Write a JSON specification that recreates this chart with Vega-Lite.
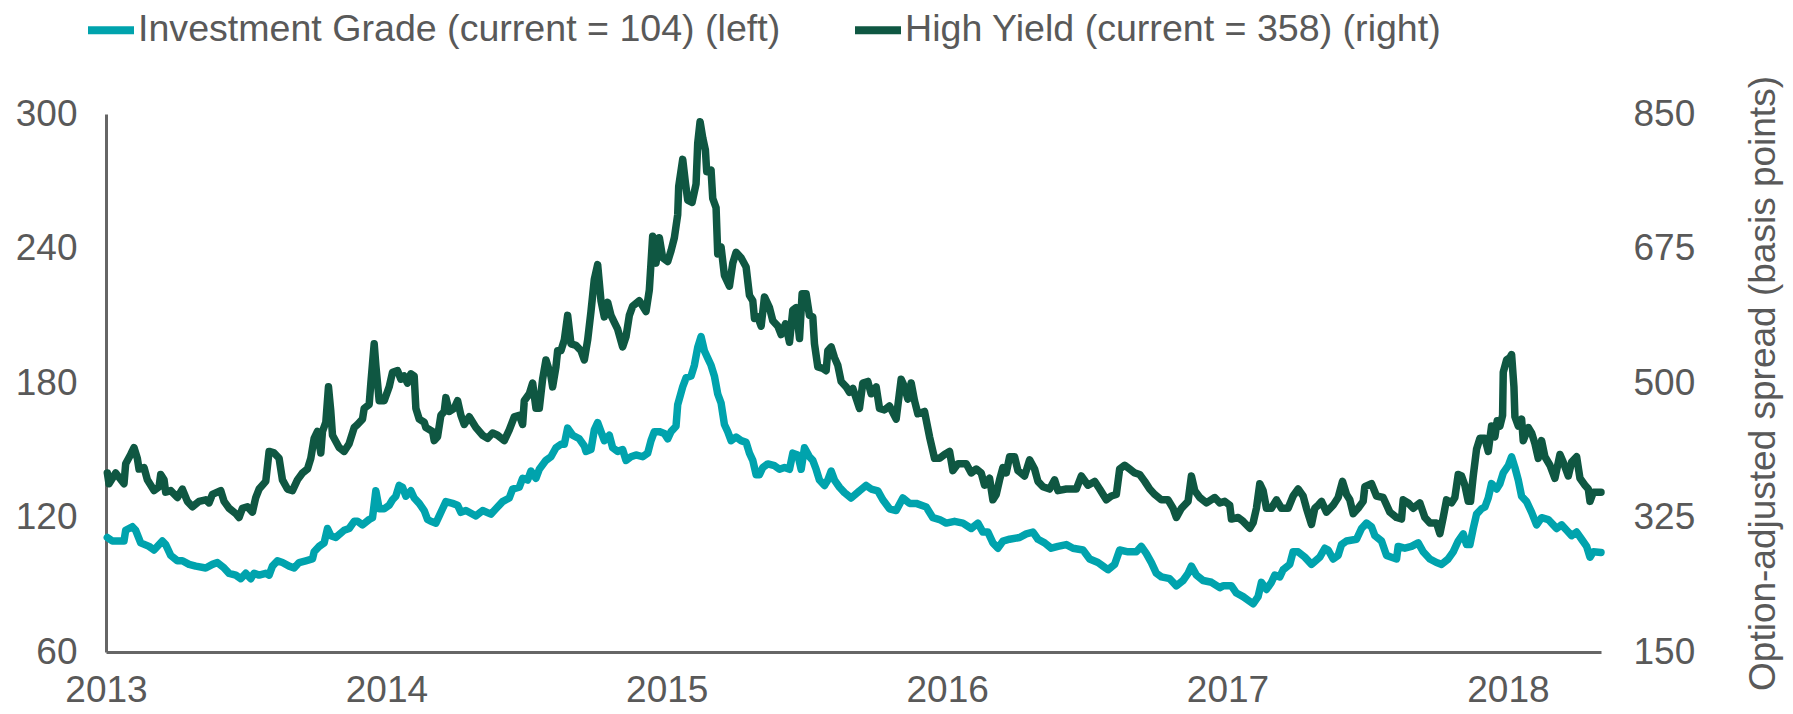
{
 "$schema": "https://vega.github.io/schema/vega-lite/v6.json",
 "width": 1495,
 "height": 538,
 "autosize": {"type": "none"},
 "padding": {"left": 106, "top": 114, "right": 192, "bottom": 62},
 "config": {
  "font": "Liberation Sans",
  "view": {"stroke": null},
  "axis": {"labelColor": "#595959", "labelFontSize": 37, "titleColor": "#595959", "titleFontSize": 37, "titleFontWeight": "normal", "domainColor": "#666666", "domainWidth": 3, "ticks": false, "tickSize": 0, "grid": false}
 },
 "datasets": {
  "ig": [
{"x":2013.0048,"v":111.1},{"x":2013.0226,"v":109.5},{"x":2013.0642,"v":109.5},{"x":2013.0702,"v":114.3},{"x":2013.0940,"v":115.9},{"x":2013.1059,"v":114.3},{"x":2013.1237,"v":108.7},{"x":2013.1535,"v":107.1},{"x":2013.1713,"v":105.5},{"x":2013.2010,"v":109.5},{"x":2013.2129,"v":107.9},{"x":2013.2308,"v":103.1},{"x":2013.2546,"v":100.7},{"x":2013.2724,"v":100.7},{"x":2013.2962,"v":99.1},{"x":2013.3200,"v":98.3},{"x":2013.3557,"v":97.5},{"x":2013.3795,"v":99.1},{"x":2013.3973,"v":99.9},{"x":2013.4211,"v":97.5},{"x":2013.4390,"v":95.1},{"x":2013.4628,"v":94.3},{"x":2013.4806,"v":92.7},{"x":2013.4985,"v":95.1},{"x":2013.5163,"v":92.7},{"x":2013.5282,"v":95.1},{"x":2013.5460,"v":94.3},{"x":2013.5698,"v":95.1},{"x":2013.5817,"v":94.3},{"x":2013.5936,"v":98.3},{"x":2013.6115,"v":100.7},{"x":2013.6293,"v":99.9},{"x":2013.6531,"v":98.3},{"x":2013.6710,"v":97.5},{"x":2013.6888,"v":99.9},{"x":2013.7126,"v":100.7},{"x":2013.7364,"v":101.5},{"x":2013.7423,"v":104.7},{"x":2013.7602,"v":107.1},{"x":2013.7780,"v":108.7},{"x":2013.7899,"v":115.1},{"x":2013.8018,"v":111.9},{"x":2013.8197,"v":111.1},{"x":2013.8494,"v":114.3},{"x":2013.8672,"v":115.1},{"x":2013.8851,"v":118.3},{"x":2013.8970,"v":118.3},{"x":2013.9148,"v":116.7},{"x":2013.9386,"v":119.1},{"x":2013.9505,"v":119.9},{"x":2013.9624,"v":131.9},{"x":2013.9743,"v":123.9},{"x":2013.9922,"v":123.9},{"x":2014.0100,"v":125.5},{"x":2014.0219,"v":127.9},{"x":2014.0338,"v":129.5},{"x":2014.0457,"v":134.3},{"x":2014.0576,"v":133.5},{"x":2014.0695,"v":129.5},{"x":2014.0873,"v":131.9},{"x":2014.0992,"v":128.7},{"x":2014.1171,"v":126.3},{"x":2014.1349,"v":123.1},{"x":2014.1468,"v":119.1},{"x":2014.1587,"v":118.3},{"x":2014.1765,"v":117.5},{"x":2014.1885,"v":120.7},{"x":2014.2003,"v":123.9},{"x":2014.2122,"v":127.1},{"x":2014.2360,"v":126.3},{"x":2014.2539,"v":125.5},{"x":2014.2658,"v":122.3},{"x":2014.2836,"v":123.1},
{"x":2014.3193,"v":120.7},{"x":2014.3431,"v":123.1},{"x":2014.3728,"v":121.5},{"x":2014.3906,"v":123.9},{"x":2014.4144,"v":127.1},{"x":2014.4383,"v":128.7},{"x":2014.4502,"v":132.7},{"x":2014.4740,"v":133.5},{"x":2014.4859,"v":137.5},{"x":2014.5037,"v":136.7},{"x":2014.5156,"v":140.7},{"x":2014.5335,"v":137.5},{"x":2014.5454,"v":141.5},{"x":2014.5691,"v":145.5},{"x":2014.5870,"v":147.1},{"x":2014.6048,"v":151.1},{"x":2014.6227,"v":152.7},{"x":2014.6346,"v":152.7},{"x":2014.6465,"v":159.9},{"x":2014.6643,"v":156.7},{"x":2014.6881,"v":155.1},{"x":2014.7060,"v":151.9},{"x":2014.7119,"v":149.5},{"x":2014.7297,"v":150.3},{"x":2014.7416,"v":159.1},{"x":2014.7535,"v":162.3},{"x":2014.7654,"v":158.3},{"x":2014.7773,"v":154.3},{"x":2014.7951,"v":156.7},{"x":2014.8070,"v":151.1},{"x":2014.8249,"v":149.5},{"x":2014.8427,"v":150.3},{"x":2014.8546,"v":145.5},{"x":2014.8724,"v":147.1},{"x":2014.8903,"v":147.9},{"x":2014.9141,"v":147.1},{"x":2014.9319,"v":148.7},{"x":2014.9438,"v":154.3},{"x":2014.9557,"v":158.3},{"x":2014.9735,"v":158.3},{"x":2014.9914,"v":157.5},{"x":2015.0033,"v":155.1},{"x":2015.0152,"v":158.3},{"x":2015.0330,"v":160.7},{"x":2015.0390,"v":170.3},{"x":2015.0569,"v":178.3},{"x":2015.0688,"v":182.3},{"x":2015.0866,"v":183.1},{"x":2015.0985,"v":187.9},{"x":2015.1104,"v":195.9},{"x":2015.1223,"v":200.7},{"x":2015.1342,"v":194.3},{"x":2015.1461,"v":191.1},{"x":2015.1580,"v":187.9},{"x":2015.1699,"v":183.1},{"x":2015.1818,"v":175.1},{"x":2015.1937,"v":171.1},{"x":2015.2056,"v":161.5},{"x":2015.2175,"v":158.3},{"x":2015.2294,"v":154.3},{"x":2015.2473,"v":155.9},{"x":2015.2651,"v":154.3},{"x":2015.2830,"v":153.5},{"x":2015.2949,"v":148.7},{"x":2015.3068,"v":145.5},{"x":2015.3187,"v":139.1},{"x":2015.3306,"v":139.1},{"x":2015.3425,"v":142.3},{"x":2015.3604,"v":143.9},{"x":2015.3842,"v":143.1},{"x":2015.4020,"v":141.5},{"x":2015.4199,"v":142.3},{"x":2015.4377,"v":141.5},{"x":2015.4496,"v":148.7},{"x":2015.4674,"v":147.9},{"x":2015.4793,"v":141.5},{"x":2015.4912,"v":151.1},{"x":2015.5089,"v":147.1},{"x":2015.5208,"v":145.5},{"x":2015.5327,"v":141.5},{"x":2015.5446,"v":136.7},{"x":2015.5625,"v":134.3},{"x":2015.5744,"v":136.7},{"x":2015.5863,"v":140.7},{"x":2015.5982,"v":136.7},{"x":2015.6160,"v":133.5},{"x":2015.6338,"v":131.1},{"x":2015.6576,"v":128.7},
{"x":2015.6873,"v":131.9},{"x":2015.7111,"v":134.3},{"x":2015.7290,"v":132.7},{"x":2015.7528,"v":131.9},{"x":2015.7706,"v":127.9},{"x":2015.7944,"v":123.9},{"x":2015.8182,"v":123.1},{"x":2015.8420,"v":128.7},{"x":2015.8658,"v":126.3},{"x":2015.8896,"v":126.3},{"x":2015.9253,"v":124.7},{"x":2015.9491,"v":119.9},{"x":2015.9729,"v":119.1},{"x":2015.9967,"v":117.5},{"x":2016.0264,"v":118.3},{"x":2016.0562,"v":117.5},{"x":2016.0859,"v":115.1},{"x":2016.1097,"v":117.5},{"x":2016.1275,"v":113.5},{"x":2016.1454,"v":113.5},{"x":2016.1632,"v":108.7},{"x":2016.1811,"v":106.3},{"x":2016.1989,"v":109.5},{"x":2016.2227,"v":110.3},{"x":2016.2584,"v":111.1},{"x":2016.2822,"v":112.7},{"x":2016.3060,"v":113.5},{"x":2016.3238,"v":110.3},{"x":2016.3476,"v":108.7},{"x":2016.3714,"v":106.3},{"x":2016.3952,"v":107.1},{"x":2016.4250,"v":107.9},{"x":2016.4488,"v":106.3},{"x":2016.4845,"v":105.5},{"x":2016.5083,"v":101.5},{"x":2016.5380,"v":99.9},{"x":2016.5558,"v":98.3},{"x":2016.5737,"v":96.7},{"x":2016.5975,"v":99.1},{"x":2016.6153,"v":105.5},{"x":2016.6451,"v":104.7},{"x":2016.6748,"v":104.7},{"x":2016.6926,"v":107.1},{"x":2016.7105,"v":103.9},{"x":2016.7284,"v":99.9},{"x":2016.7462,"v":95.1},{"x":2016.7641,"v":93.5},{"x":2016.7938,"v":92.7},{"x":2016.8176,"v":89.5},{"x":2016.8414,"v":91.9},{"x":2016.8593,"v":95.1},{"x":2016.8712,"v":98.3},{"x":2016.8890,"v":94.3},{"x":2016.9129,"v":91.9},{"x":2016.9426,"v":91.1},{"x":2016.9724,"v":88.7},
{"x":2016.9841,"v":89.5},{"x":2017.0139,"v":89.5},{"x":2017.0317,"v":86.3},{"x":2017.0555,"v":84.7},{"x":2017.0734,"v":83.1},{"x":2017.0912,"v":81.5},{"x":2017.1090,"v":84.7},{"x":2017.1209,"v":91.1},{"x":2017.1388,"v":87.9},{"x":2017.1566,"v":91.1},{"x":2017.1685,"v":94.3},{"x":2017.1864,"v":93.5},{"x":2017.1983,"v":96.7},{"x":2017.2220,"v":99.1},{"x":2017.2339,"v":104.7},{"x":2017.2518,"v":104.7},{"x":2017.2756,"v":102.3},{"x":2017.2994,"v":99.1},{"x":2017.3291,"v":102.3},{"x":2017.3470,"v":106.3},{"x":2017.3589,"v":105.5},{"x":2017.3767,"v":101.5},{"x":2017.3945,"v":103.1},{"x":2017.4064,"v":107.9},{"x":2017.4243,"v":109.5},{"x":2017.4600,"v":110.3},{"x":2017.4778,"v":115.1},{"x":2017.4957,"v":117.5},{"x":2017.5135,"v":115.9},{"x":2017.5254,"v":111.9},{"x":2017.5492,"v":109.5},{"x":2017.5670,"v":103.1},{"x":2017.5849,"v":102.3},{"x":2017.6027,"v":101.5},{"x":2017.6086,"v":107.1},{"x":2017.6324,"v":106.3},{"x":2017.6562,"v":107.1},{"x":2017.6800,"v":108.7},{"x":2017.6978,"v":104.7},{"x":2017.7216,"v":101.5},{"x":2017.7454,"v":99.9},{"x":2017.7633,"v":99.1},{"x":2017.7871,"v":101.5},{"x":2017.8049,"v":104.7},{"x":2017.8227,"v":109.5},{"x":2017.8406,"v":112.7},{"x":2017.8525,"v":107.9},{"x":2017.8644,"v":107.9},{"x":2017.8763,"v":115.1},{"x":2017.8882,"v":121.5},{"x":2017.9060,"v":123.9},{"x":2017.9180,"v":124.7},{"x":2017.9298,"v":128.7},{"x":2017.9417,"v":135.1},{"x":2017.9596,"v":132.7},{"x":2017.9715,"v":135.1},{"x":2017.9834,"v":139.9},{"x":2018.0012,"v":143.1},{"x":2018.0131,"v":147.1},{"x":2018.0250,"v":142.3},{"x":2018.0369,"v":136.7},{"x":2018.0488,"v":129.5},{"x":2018.0666,"v":127.1},{"x":2018.0845,"v":122.3},{"x":2018.1023,"v":116.7},{"x":2018.1202,"v":119.9},{"x":2018.1440,"v":119.1},{"x":2018.1618,"v":116.7},{"x":2018.1737,"v":115.1},{"x":2018.1915,"v":116.7},{"x":2018.2094,"v":114.3},{"x":2018.2272,"v":111.9},{"x":2018.2451,"v":113.5},{"x":2018.2629,"v":110.3},{"x":2018.2808,"v":107.1},{"x":2018.2927,"v":102.3},{"x":2018.3046,"v":104.7},{"x":2018.3320,"v":104.4}
  ],
  "hy": [
{"x":2013.0048,"v":383},{"x":2013.0107,"v":369},{"x":2013.0345,"v":383},{"x":2013.0642,"v":369},{"x":2013.0702,"v":395},{"x":2013.0880,"v":407},{"x":2013.0999,"v":416},{"x":2013.1118,"v":402},{"x":2013.1178,"v":388},{"x":2013.1356,"v":390},{"x":2013.1475,"v":374},{"x":2013.1713,"v":360},{"x":2013.1892,"v":365},{"x":2013.1951,"v":381},{"x":2013.2070,"v":374},{"x":2013.2129,"v":358},{"x":2013.2308,"v":360},{"x":2013.2546,"v":351},{"x":2013.2724,"v":362},{"x":2013.2903,"v":346},{"x":2013.3081,"v":339},{"x":2013.3319,"v":346},{"x":2013.3557,"v":348},{"x":2013.3676,"v":344},{"x":2013.3795,"v":355},{"x":2013.4092,"v":360},{"x":2013.4211,"v":346},{"x":2013.4390,"v":337},{"x":2013.4628,"v":330},{"x":2013.4747,"v":325},{"x":2013.4866,"v":337},{"x":2013.5044,"v":339},{"x":2013.5222,"v":332},{"x":2013.5341,"v":351},{"x":2013.5460,"v":362},{"x":2013.5698,"v":372},{"x":2013.5817,"v":411},{"x":2013.5996,"v":409},{"x":2013.6174,"v":402},{"x":2013.6293,"v":374},{"x":2013.6472,"v":362},{"x":2013.6650,"v":360},{"x":2013.6828,"v":374},{"x":2013.7007,"v":383},{"x":2013.7185,"v":388},{"x":2013.7304,"v":402},{"x":2013.7423,"v":428},{"x":2013.7542,"v":437},{"x":2013.7661,"v":409},{"x":2013.7721,"v":437},{"x":2013.7840,"v":449},{"x":2013.7935,"v":495},{"x":2013.8018,"v":463},{"x":2013.8078,"v":432},{"x":2013.8315,"v":416},{"x":2013.8494,"v":411},{"x":2013.8672,"v":421},{"x":2013.8851,"v":442},{"x":2013.8970,"v":446},{"x":2013.9148,"v":453},{"x":2013.9208,"v":467},{"x":2013.9386,"v":472},{"x":2013.9446,"v":500},{"x":2013.9565,"v":551},{"x":2013.9624,"v":523},{"x":2013.9743,"v":477},{"x":2013.9922,"v":477},{"x":2014.0100,"v":495},{"x":2014.0219,"v":514},{"x":2014.0397,"v":516},{"x":2014.0516,"v":505},{"x":2014.0635,"v":509},{"x":2014.0754,"v":500},{"x":2014.0873,"v":512},{"x":2014.0992,"v":509},{"x":2014.1052,"v":467},{"x":2014.1171,"v":453},{"x":2014.1349,"v":449},{"x":2014.1409,"v":442},{"x":2014.1646,"v":437},{"x":2014.1706,"v":425},{"x":2014.1825,"v":430},{"x":2014.1944,"v":458},{"x":2014.2063,"v":463},{"x":2014.2122,"v":481},{"x":2014.2241,"v":463},{"x":2014.2420,"v":467},{"x":2014.2539,"v":477},{"x":2014.2658,"v":458},{"x":2014.2777,"v":446},
{"x":2014.2955,"v":456},{"x":2014.3193,"v":442},{"x":2014.3431,"v":432},{"x":2014.3609,"v":428},{"x":2014.3788,"v":435},{"x":2014.3966,"v":432},{"x":2014.4204,"v":425},{"x":2014.4383,"v":439},{"x":2014.4561,"v":456},{"x":2014.4740,"v":458},{"x":2014.4859,"v":446},{"x":2014.4918,"v":477},{"x":2014.5097,"v":486},{"x":2014.5216,"v":500},{"x":2014.5335,"v":467},{"x":2014.5454,"v":467},{"x":2014.5572,"v":505},{"x":2014.5691,"v":530},{"x":2014.5870,"v":509},{"x":2014.5929,"v":495},{"x":2014.6048,"v":521},{"x":2014.6108,"v":542},{"x":2014.6227,"v":542},{"x":2014.6346,"v":556},{"x":2014.6465,"v":588},{"x":2014.6584,"v":551},{"x":2014.6762,"v":549},{"x":2014.6941,"v":542},{"x":2014.7060,"v":530},{"x":2014.7179,"v":556},{"x":2014.7297,"v":593},{"x":2014.7416,"v":635},{"x":2014.7535,"v":654},{"x":2014.7654,"v":607},{"x":2014.7773,"v":586},{"x":2014.7892,"v":605},{"x":2014.8011,"v":588},{"x":2014.8130,"v":579},{"x":2014.8249,"v":570},{"x":2014.8427,"v":547},{"x":2014.8546,"v":560},{"x":2014.8665,"v":588},{"x":2014.8784,"v":600},{"x":2014.9022,"v":607},{"x":2014.9260,"v":593},{"x":2014.9378,"v":621},{"x":2014.9497,"v":691},{"x":2014.9616,"v":656},{"x":2014.9735,"v":689},{"x":2014.9854,"v":663},{"x":2015.0033,"v":658},{"x":2015.0152,"v":672},{"x":2015.0271,"v":689},{"x":2015.0390,"v":719},{"x":2015.0426,"v":756},{"x":2015.0569,"v":791},{"x":2015.0664,"v":761},{"x":2015.0747,"v":738},{"x":2015.0902,"v":735},{"x":2015.1045,"v":759},{"x":2015.1104,"v":812},{"x":2015.1188,"v":840},{"x":2015.1283,"v":819},{"x":2015.1378,"v":803},{"x":2015.1425,"v":775},{"x":2015.1580,"v":777},{"x":2015.1640,"v":740},{"x":2015.1759,"v":728},{"x":2015.1818,"v":668},{"x":2015.1937,"v":677},{"x":2015.2056,"v":640},{"x":2015.2235,"v":626},{"x":2015.2354,"v":656},{"x":2015.2473,"v":670},{"x":2015.2651,"v":663},{"x":2015.2830,"v":651},{"x":2015.2949,"v":614},{"x":2015.3068,"v":607},{"x":2015.3128,"v":584},{"x":2015.3247,"v":586},{"x":2015.3366,"v":574},{"x":2015.3485,"v":612},{"x":2015.3663,"v":598},{"x":2015.3782,"v":581},{"x":2015.3961,"v":574},{"x":2015.4080,"v":563},{"x":2015.4234,"v":577},{"x":2015.4377,"v":553},{"x":2015.4496,"v":595},{"x":2015.4615,"v":598},{"x":2015.4734,"v":558},{"x":2015.4827,"v":616},{"x":2015.4970,"v":616},{"x":2015.5089,"v":588},{"x":2015.5208,"v":586},{"x":2015.5268,"v":551},{"x":2015.5387,"v":521},{"x":2015.5565,"v":519},{"x":2015.5684,"v":516},{"x":2015.5744,"v":542},{"x":2015.5863,"v":547},{"x":2015.5982,"v":533},{"x":2015.6100,"v":523},{"x":2015.6219,"v":502},{"x":2015.6398,"v":495},{"x":2015.6517,"v":488},{"x":2015.6636,"v":493},
{"x":2015.6873,"v":467},{"x":2015.6992,"v":500},{"x":2015.7171,"v":502},{"x":2015.7290,"v":486},{"x":2015.7468,"v":495},{"x":2015.7587,"v":467},{"x":2015.7766,"v":465},{"x":2015.7944,"v":470},{"x":2015.8182,"v":453},{"x":2015.8360,"v":505},{"x":2015.8479,"v":495},{"x":2015.8598,"v":479},{"x":2015.8717,"v":500},{"x":2015.8836,"v":477},{"x":2015.8955,"v":460},{"x":2015.9193,"v":463},{"x":2015.9372,"v":430},{"x":2015.9550,"v":402},{"x":2015.9729,"v":402},{"x":2015.9907,"v":407},{"x":2016.0086,"v":411},{"x":2016.0205,"v":386},{"x":2016.0383,"v":395},{"x":2016.0681,"v":395},{"x":2016.0859,"v":383},{"x":2016.1038,"v":388},{"x":2016.1216,"v":383},{"x":2016.1335,"v":367},{"x":2016.1513,"v":376},{"x":2016.1632,"v":348},{"x":2016.1751,"v":355},{"x":2016.1870,"v":374},{"x":2016.1989,"v":390},{"x":2016.2108,"v":383},{"x":2016.2227,"v":404},{"x":2016.2406,"v":404},{"x":2016.2525,"v":386},{"x":2016.2762,"v":379},{"x":2016.2941,"v":400},{"x":2016.3119,"v":388},{"x":2016.3238,"v":372},{"x":2016.3417,"v":365},{"x":2016.3655,"v":362},{"x":2016.3833,"v":374},{"x":2016.3952,"v":360},{"x":2016.4250,"v":362},{"x":2016.4607,"v":362},{"x":2016.4785,"v":379},{"x":2016.5023,"v":367},{"x":2016.5261,"v":372},{"x":2016.5440,"v":362},{"x":2016.5677,"v":348},{"x":2016.5856,"v":353},{"x":2016.6034,"v":355},{"x":2016.6153,"v":388},{"x":2016.6332,"v":393},{"x":2016.6510,"v":388},{"x":2016.6689,"v":383},{"x":2016.6867,"v":381},{"x":2016.7046,"v":372},{"x":2016.7224,"v":362},{"x":2016.7403,"v":355},{"x":2016.7641,"v":348},{"x":2016.7879,"v":348},{"x":2016.8057,"v":337},{"x":2016.8176,"v":325},{"x":2016.8355,"v":337},{"x":2016.8593,"v":346},{"x":2016.8712,"v":379},{"x":2016.8831,"v":360},{"x":2016.9010,"v":351},{"x":2016.9248,"v":344},{"x":2016.9545,"v":351},{"x":2016.9724,"v":344},
{"x":2016.9901,"v":346},{"x":2017.0079,"v":341},{"x":2017.0139,"v":323},{"x":2017.0377,"v":325},{"x":2017.0555,"v":320},{"x":2017.0793,"v":311},{"x":2017.0912,"v":318},{"x":2017.1031,"v":337},{"x":2017.1150,"v":369},{"x":2017.1269,"v":360},{"x":2017.1388,"v":337},{"x":2017.1566,"v":337},{"x":2017.1745,"v":348},{"x":2017.1923,"v":337},{"x":2017.2161,"v":337},{"x":2017.2339,"v":353},{"x":2017.2518,"v":362},{"x":2017.2696,"v":353},{"x":2017.2815,"v":337},{"x":2017.2994,"v":316},{"x":2017.3113,"v":337},{"x":2017.3232,"v":341},{"x":2017.3351,"v":346},{"x":2017.3529,"v":332},{"x":2017.3767,"v":341},{"x":2017.3945,"v":351},{"x":2017.4100,"v":372},{"x":2017.4243,"v":355},{"x":2017.4362,"v":348},{"x":2017.4481,"v":330},{"x":2017.4659,"v":337},{"x":2017.4838,"v":346},{"x":2017.4897,"v":365},{"x":2017.5135,"v":369},{"x":2017.5313,"v":353},{"x":2017.5551,"v":351},{"x":2017.5789,"v":332},{"x":2017.6027,"v":325},{"x":2017.6205,"v":323},{"x":2017.6265,"v":348},{"x":2017.6443,"v":344},{"x":2017.6621,"v":337},{"x":2017.6859,"v":344},{"x":2017.7038,"v":325},{"x":2017.7216,"v":318},{"x":2017.7454,"v":318},{"x":2017.7573,"v":304},{"x":2017.7692,"v":325},{"x":2017.7811,"v":348},{"x":2017.7990,"v":344},{"x":2017.8108,"v":351},{"x":2017.8227,"v":381},{"x":2017.8346,"v":379},{"x":2017.8465,"v":367},{"x":2017.8584,"v":346},{"x":2017.8668,"v":346},{"x":2017.8763,"v":379},{"x":2017.8882,"v":414},{"x":2017.9001,"v":428},{"x":2017.9180,"v":428},{"x":2017.9298,"v":411},{"x":2017.9417,"v":444},{"x":2017.9536,"v":430},{"x":2017.9620,"v":451},{"x":2017.9715,"v":444},{"x":2017.9810,"v":458},{"x":2017.9834,"v":514},{"x":2017.9953,"v":530},{"x":2018.0072,"v":533},{"x":2018.0131,"v":537},{"x":2018.0215,"v":495},{"x":2018.0250,"v":456},{"x":2018.0369,"v":444},{"x":2018.0488,"v":453},{"x":2018.0547,"v":425},{"x":2018.0726,"v":442},{"x":2018.0845,"v":435},{"x":2018.0964,"v":421},{"x":2018.1083,"v":402},{"x":2018.1202,"v":425},{"x":2018.1320,"v":404},{"x":2018.1499,"v":393},{"x":2018.1677,"v":376},{"x":2018.1856,"v":407},{"x":2018.1975,"v":397},{"x":2018.2153,"v":379},{"x":2018.2272,"v":397},{"x":2018.2451,"v":404},{"x":2018.2570,"v":376},{"x":2018.2748,"v":367},{"x":2018.2867,"v":362},{"x":2018.2927,"v":346},{"x":2018.3046,"v":358},{"x":2018.3320,"v":358}
  ]
 },
 "layer": [
  {
   "data": {"name": "ig"},
   "mark": {"type": "line", "strokeWidth": 7.5, "strokeJoin": "round", "strokeCap": "round"},
   "encoding": {
    "x": {"field": "x", "type": "quantitative", "scale": {"domain": [2013, 2018.332], "nice": false, "zero": false}, "axis": {"values": [2013, 2014, 2015, 2016, 2017, 2018], "format": "d", "title": null, "labelPadding": 20, "labelFlush": false}},
    "y": {"field": "v", "type": "quantitative", "scale": {"domain": [60, 300], "nice": false, "zero": false}, "axis": {"values": [60, 120, 180, 240, 300], "title": null, "labelPadding": 29}},
    "color": {"datum": "Investment Grade (current = 104) (left)", "type": "nominal",
     "scale": {"domain": ["Investment Grade (current = 104) (left)", "High Yield (current = 358) (right)"], "range": ["#00A3AD", "#0F5742"]},
     "legend": {"orient": "none", "legendX": -22, "legendY": -111, "direction": "horizontal", "title": null, "symbolType": "stroke", "symbolStrokeWidth": 8, "symbolSize": 2116, "labelFontSize": 37.6, "labelColor": "#595959", "columnPadding": 58, "labelOffset": 0, "padding": 0, "labelLimit": 1000}}
   }
  },
  {
   "data": {"name": "hy"},
   "mark": {"type": "line", "strokeWidth": 7.5, "strokeJoin": "round", "strokeCap": "round"},
   "encoding": {
    "x": {"field": "x", "type": "quantitative"},
    "y": {"field": "v", "type": "quantitative", "scale": {"domain": [150, 850], "nice": false, "zero": false}, "axis": {"orient": "right", "domain": false, "values": [150, 325, 500, 675, 850], "title": "Option-adjusted spread (basis points)", "labelPadding": 32, "titleAngle": 270, "titlePadding": 88}},
    "color": {"datum": "High Yield (current = 358) (right)", "type": "nominal"}
   }
  }
 ],
 "resolve": {"scale": {"y": "independent"}}
}
